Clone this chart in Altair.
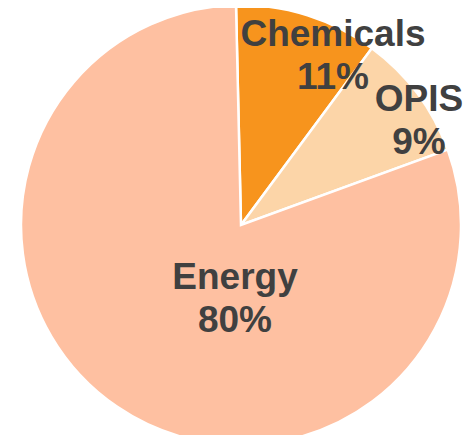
import math
import altair as alt
import pandas as pd

categories = ["Chemicals", "OPIS", "Energy"]
shares = [10.5, 9.3, 80.2]
labels = ["11%", "9%", "80%"]
colors = ["#F7941D", "#FCD5A8", "#FEC0A1"]

df = pd.DataFrame({"category": categories, "share": shares, "label": labels,
                   "idx": list(range(len(categories)))})

CX, CY, R = 233, 217, 220
start = 2 * math.pi - math.radians(1.3)

pie = alt.Chart(df).mark_arc(outerRadius=R, stroke="white", strokeWidth=2.5).encode(
    theta=alt.Theta("share:Q", stack=True, scale=alt.Scale(range=[start, start + 2 * math.pi])),
    color=alt.Color("category:N", scale=alt.Scale(domain=categories, range=colors), legend=None),
    order=alt.Order("idx:Q"),
    x=alt.value(CX),
    y=alt.value(CY),
)

label_pos = {"Chemicals": (325, 27), "OPIS": (411, 92), "Energy": (227, 270)}
layers = [pie]
for cat, lab in zip(categories, labels):
    px, py = label_pos[cat]
    t = alt.Chart(df).transform_filter(alt.datum.category == cat).mark_text(
        font="Liberation Sans", fontWeight="bold", fontSize=37, color="#404040",
        lineHeight=43, baseline="middle", align="center",
    ).encode(
        text=alt.Text("text:N"),
        x=alt.value(px), y=alt.value(py),
    ).transform_calculate(text="[datum.category, datum.label]")
    layers.append(t)

chart = alt.layer(*layers).properties(
    width=456, height=427,
    autosize=alt.AutoSizeParams(type="none"),
    padding=0,
).configure_view(stroke=None)

chart.save("out.html", embed_options={"renderer": "svg", "actions": False})
